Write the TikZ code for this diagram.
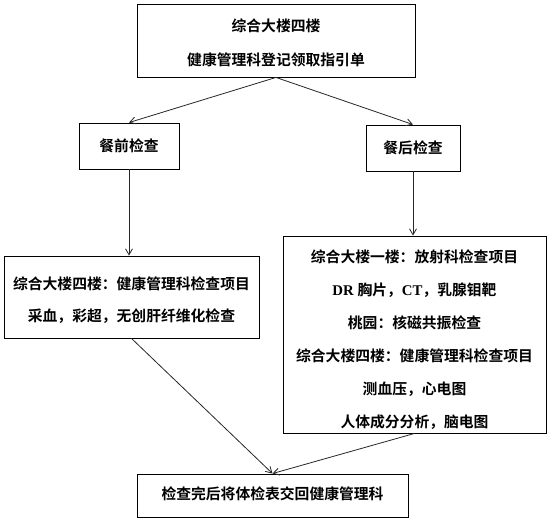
\documentclass[tikz,border=0pt]{standalone}
\usepackage{fontspec}
\setmainfont{Noto Sans CJK SC}[BoldFont={Noto Sans CJK SC Bold}]
\newfontfamily\latfont{Liberation Serif}
\usetikzlibrary{arrows.meta}
\begin{document}
\begin{tikzpicture}[x=1pt,y=-1pt,
  box/.style={draw=black, line width=0.9pt, rectangle, inner sep=0pt},
  txt/.style={align=center, inner sep=0pt, font=\fontsize{14.8pt}{33pt}\selectfont\bfseries},
  conn/.style={draw=black!85, line width=0.8pt, -{Straight Barb[length=6pt,width=7pt]}}]
\useasboundingbox (0,0) rectangle (555,526);
% boxes
\node[box, minimum width=278pt, minimum height=73pt] (T) at (276,40.5) {};
\node[box, minimum width=100pt, minimum height=46pt] (A) at (129,146) {};
\node[box, minimum width=94pt, minimum height=46pt] (B) at (413,148) {};
\node[box, minimum width=255pt, minimum height=82pt] (L) at (131.5,297) {};
\node[box, minimum width=263pt, minimum height=197pt] (R) at (414.5,334.5) {};
\node[box, minimum width=271pt, minimum height=43pt] (E) at (272.5,495.5) {};
% texts
\node[txt, font=\fontsize{14.8pt}{34pt}\selectfont\bfseries] (Tt) at ([yshift=-2.5pt]T.center) {综合大楼四楼\\健康管理科登记领取指引单};
\node[txt] (At) at (A.center) {餐前检查};
\node[txt] (Bt) at (B.center) {餐后检查};
\node[txt, font=\fontsize{14.8pt}{32pt}\selectfont\bfseries] (Lt) at ([yshift=-3pt]L.center) {综合大楼四楼：健康管理科检查项目\\采血，彩超，无创肝纤维化检查};
\node[txt] (Rt) at ([yshift=-5pt]R.center) {综合大楼一楼：放射科检查项目\\{\latfont\bfseries DR }胸片，{\latfont\bfseries CT}，乳腺钼靶\\桃园：核磁共振检查\\综合大楼四楼：健康管理科检查项目\\测血压，心电图\\人体成分分析，脑电图};
\node[txt] (Et) at ([yshift=1.5pt]E.center) {检查完后将体检表交回健康管理科};
% connectors
\draw[conn] (T.south) -- (A.north);
\draw[conn] (T.south) -- (B.north);
\draw[conn] (A.south) -- (A.south |- L.north);
\draw[conn] (B.south) -- (B.south |- R.north);
\draw[conn] (L.south) -- (E.north);
\draw[conn] (R.south) -- (E.north);
\end{tikzpicture}
\end{document}
